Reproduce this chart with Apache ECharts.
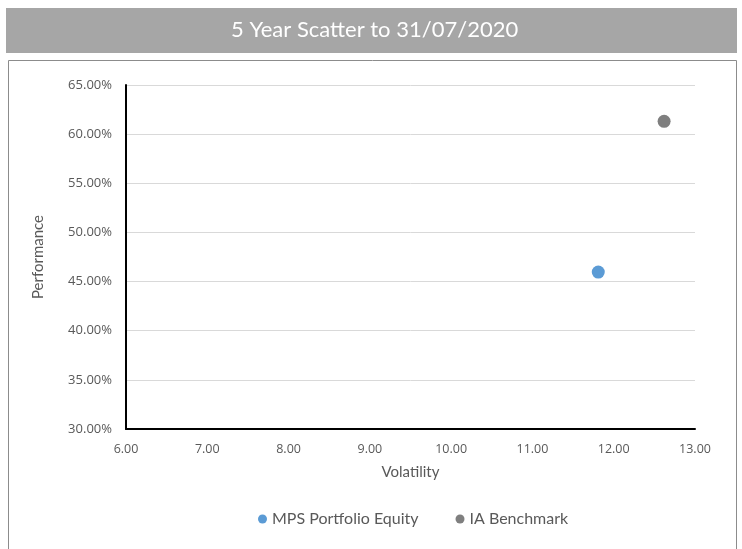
<!DOCTYPE html>
<html><head><meta charset="utf-8">
<script src="https://cdn.jsdelivr.net/npm/echarts@6/dist/echarts.min.js"></script>
<style>html,body{margin:0;padding:0;background:#fff}#c{width:742px;height:549px}</style>
</head><body><div id="c"></div>
<script>
const seriesNames = ["MPS Portfolio Equity", "IA Benchmark"];
const volatility = [11.81, 12.62];
const performance = [45.97, 61.3];
const colors = ["#5b9bd5", "#7f7f7f"];
const xTicks = [6, 7, 8, 9, 10, 11, 12, 13];
const yTicks = [30, 35, 40, 45, 50, 55, 60, 65];

const chart = echarts.init(document.getElementById('c'));
const fontA = "Lato, 'Open Sans', sans-serif";
const fontB = "'Open Sans', 'Liberation Sans', sans-serif";
chart.setOption({
  animation: false,
  graphic: [
    {type: 'rect', shape: {x: 6, y: 8, width: 731, height: 45}, style: {fill: '#a6a6a6'}, z: -10},
    {type: 'rect', shape: {x: 8.5, y: 60.5, width: 728, height: 495}, style: {fill: '#fff', stroke: '#8c8c8c', lineWidth: 1}, z: -10}
  ],
  title: {
    text: '5 Year Scatter to 31/07/2020',
    left: 226, top: 14,
    textStyle: {color: '#fff', fontSize: 22, fontWeight: 'normal', fontFamily: fontA}
  },
  legend: {
    data: seriesNames,
    bottom: 17, left: 253,
    icon: 'circle', itemWidth: 9, itemHeight: 9, itemGap: 37,
    textStyle: {color: '#595959', fontSize: 16, fontFamily: fontA}
  },
  grid: {left: 126, right: 47, top: 85, bottom: 120},
  xAxis: {
    type: 'value', min: xTicks[0], max: xTicks[xTicks.length - 1], interval: 1,
    name: 'Volatility', nameLocation: 'middle', nameGap: 36,
    nameTextStyle: {color: '#595959', fontSize: 15, fontFamily: fontA},
    axisLine: {show: true, lineStyle: {color: '#000', width: 2}},
    axisTick: {show: false},
    splitLine: {show: false},
    axisLabel: {color: '#595959', fontSize: 12.5, fontFamily: fontB, margin: 14,
      formatter: v => v.toFixed(2)}
  },
  yAxis: {
    type: 'value', min: yTicks[0], max: yTicks[yTicks.length - 1], interval: 5,
    name: 'Performance', nameLocation: 'middle', nameGap: 80, nameRotate: 90,
    nameTextStyle: {color: '#595959', fontSize: 15, fontFamily: fontA},
    axisLine: {show: true, lineStyle: {color: '#000', width: 2}},
    axisTick: {show: false},
    splitLine: {show: true, lineStyle: {color: '#d9d9d9', width: 1}},
    axisLabel: {color: '#595959', fontSize: 13, fontFamily: fontB, margin: 14,
      formatter: v => v.toFixed(2) + '%'}
  },
  series: seriesNames.map((n, i) => ({
    name: n, type: 'scatter', symbolSize: 13,
    itemStyle: {color: colors[i], opacity: 1},
    data: [[volatility[i], performance[i]]]
  }))
});
</script></body></html>
